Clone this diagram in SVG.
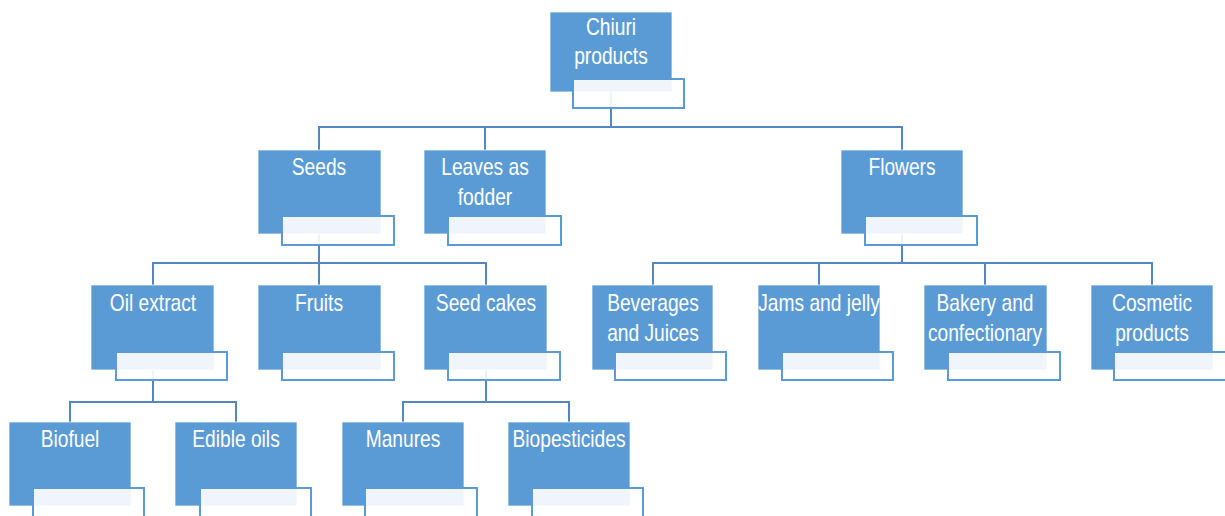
<svg xmlns="http://www.w3.org/2000/svg" width="1225" height="516" viewBox="0 0 1225 516">
<style>
.box{fill:#5b9bd5;stroke:#ffffff;stroke-opacity:0.7;stroke-width:1}
.lab{fill:#ffffff;fill-opacity:0.9;stroke:#5b9bd5;stroke-width:2}
.t{font-family:"Liberation Sans",Arial,sans-serif;font-size:24px;fill:#ffffff;text-anchor:middle}
.c{fill:none;stroke:#5487c2;stroke-width:2}
</style>
<rect width="1225" height="516" fill="#ffffff"/>
<g id="connectors">
<path class="c" d="M611 92V127M319 150V127H902V150M485 127V150"/>
<path class="c" d="M319 234V263M153 285V263H486V285M319 263V285"/>
<path class="c" d="M902 234V263M653 285V263H1152V285M819 263V285M985 263V285"/>
<path class="c" d="M153 370V402M70 422V402H236V422"/>
<path class="c" d="M486 370V402M403 422V402H569V422"/>
</g>
<g id="n-chiuri"><rect class="box" x="550" y="12" width="122" height="80"/><rect class="lab" x="573" y="79" width="111" height="29"/><text class="t" transform="translate(611,35) scale(0.8,1)">Chiuri</text><text class="t" transform="translate(611,64) scale(0.8,1)">products</text></g>
<g id="n-seeds"><rect class="box" x="258" y="150" width="123" height="84"/><rect class="lab" x="282" y="216" width="112" height="29"/><text class="t" transform="translate(319,175) scale(0.8,1)">Seeds</text></g>
<g id="n-leaves"><rect class="box" x="424" y="150" width="122" height="84"/><rect class="lab" x="448" y="216" width="113" height="29"/><text class="t" transform="translate(485,175) scale(0.8,1)">Leaves as</text><text class="t" transform="translate(485,205) scale(0.8,1)">fodder</text></g>
<g id="n-flowers"><rect class="box" x="841" y="150" width="122" height="84"/><rect class="lab" x="865" y="216" width="112" height="29"/><text class="t" transform="translate(902,175) scale(0.8,1)">Flowers</text></g>
<g id="n-oil"><rect class="box" x="91" y="285" width="123" height="85"/><rect class="lab" x="116" y="352" width="111" height="28"/><text class="t" transform="translate(153,311) scale(0.8,1)">Oil extract</text></g>
<g id="n-fruits"><rect class="box" x="258" y="285" width="123" height="85"/><rect class="lab" x="282" y="352" width="112" height="28"/><text class="t" transform="translate(319,311) scale(0.8,1)">Fruits</text></g>
<g id="n-seedcakes"><rect class="box" x="424" y="285" width="123" height="85"/><rect class="lab" x="448" y="352" width="112" height="28"/><text class="t" transform="translate(486,311) scale(0.8,1)">Seed cakes</text></g>
<g id="n-beverages"><rect class="box" x="592" y="285" width="121" height="85"/><rect class="lab" x="615" y="352" width="111" height="28"/><text class="t" transform="translate(653,311) scale(0.8,1)">Beverages</text><text class="t" transform="translate(653,341) scale(0.8,1)">and Juices</text></g>
<g id="n-jams"><rect class="box" x="758" y="285" width="122" height="85"/><rect class="lab" x="782" y="352" width="111" height="28"/><text class="t" transform="translate(819,311) scale(0.8,1)">Jams and jelly</text></g>
<g id="n-bakery"><rect class="box" x="924" y="285" width="123" height="85"/><rect class="lab" x="948" y="352" width="112" height="28"/><text class="t" transform="translate(985,311) scale(0.8,1)">Bakery and</text><text class="t" transform="translate(985,341) scale(0.8,1)">confectionary</text></g>
<g id="n-cosmetic"><rect class="box" x="1091" y="285" width="122" height="85"/><rect class="lab" x="1114" y="352" width="112" height="28"/><text class="t" transform="translate(1152,311) scale(0.8,1)">Cosmetic</text><text class="t" transform="translate(1152,341) scale(0.8,1)">products</text></g>
<g id="n-biofuel"><rect class="box" x="9" y="422" width="122" height="84"/><rect class="lab" x="33" y="488" width="111" height="30"/><text class="t" transform="translate(70,447) scale(0.8,1)">Biofuel</text></g>
<g id="n-edible"><rect class="box" x="175" y="422" width="122" height="84"/><rect class="lab" x="200" y="488" width="111" height="30"/><text class="t" transform="translate(236,447) scale(0.8,1)">Edible oils</text></g>
<g id="n-manures"><rect class="box" x="342" y="422" width="122" height="84"/><rect class="lab" x="365" y="488" width="112" height="30"/><text class="t" transform="translate(403,447) scale(0.8,1)">Manures</text></g>
<g id="n-biopesticides"><rect class="box" x="508" y="422" width="122" height="84"/><rect class="lab" x="532" y="488" width="111" height="30"/><text class="t" transform="translate(569,447) scale(0.8,1)">Biopesticides</text></g>
</svg>
